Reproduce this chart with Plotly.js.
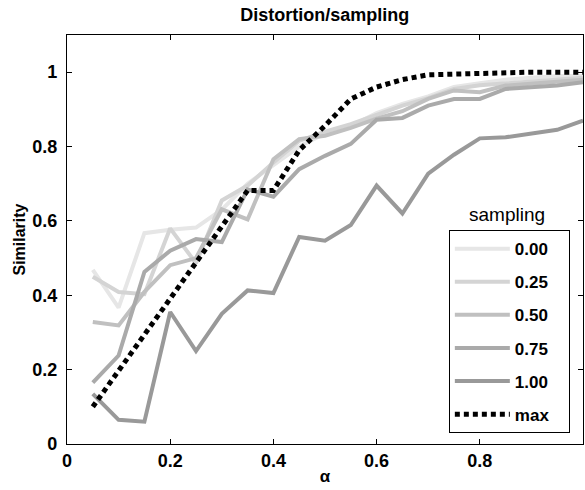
<!DOCTYPE html>
<html>
<head>
<meta charset="utf-8">
<script src="https://cdn.plot.ly/plotly-3.0.1.min.js"></script>
<style>html,body{margin:0;padding:0;background:#fff;}#chart{width:585px;height:490px;}</style>
</head>
<body>
<div id="chart"></div>
<script>
var alpha = [0.05,0.10,0.15,0.20,0.25,0.30,0.35,0.40,0.45,0.50,0.55,0.60,0.65,0.70,0.75,0.80,0.85,0.90,0.95,1.00];
var s000 = [0.468,0.367,0.567,0.576,0.582,0.630,0.700,0.750,0.800,0.835,0.855,0.890,0.915,0.935,0.960,0.970,0.980,0.985,0.990,0.990];
var s025 = [0.450,0.409,0.403,0.580,0.486,0.655,0.695,0.757,0.815,0.840,0.860,0.885,0.910,0.930,0.955,0.965,0.970,0.975,0.980,0.985];
var s050 = [0.328,0.319,0.409,0.481,0.500,0.631,0.604,0.766,0.820,0.829,0.850,0.875,0.895,0.928,0.951,0.946,0.964,0.970,0.975,0.980];
var s075 = [0.165,0.238,0.463,0.520,0.551,0.543,0.685,0.665,0.739,0.775,0.807,0.872,0.877,0.910,0.928,0.928,0.955,0.960,0.964,0.973];
var s100 = [0.135,0.065,0.060,0.355,0.250,0.350,0.413,0.406,0.557,0.547,0.589,0.695,0.620,0.727,0.778,0.822,0.825,0.835,0.845,0.870];
var smax = [0.100,0.197,0.295,0.390,0.486,0.584,0.682,0.682,0.790,0.856,0.928,0.960,0.980,0.993,0.995,0.998,1.000,1.000,1.000,1.000];
var seriesNames = ['0.00','0.25','0.50','0.75','1.00','max'];
var seriesData = [s000,s025,s050,s075,s100,smax];
var colors = ['#e6e6e6','#d4d4d4','#c0c0c0','#aaaaaa','#999999','#000000'];
var pad = '\u00a0\u00a0\u00a0';

var traces = seriesData.map(function(d,i){
  var isMax = seriesNames[i]==='max';
  return {
    x: alpha, y: d, type:'scatter', mode:'lines', name: seriesNames[i] + pad,
    legendgroup: 'g'+i,
    line: {color: colors[i], width: isMax?5:4, dash: isMax?'5px,4px':'solid'}
  };
});

var fontFam = 'Liberation Sans, Arial, Helvetica, sans-serif';
var bold18 = {family:fontFam,size:18,color:'#000',weight:'bold'};
var layout = {
  width:585, height:490,
  margin:{l:67,r:2,t:35,b:46},
  paper_bgcolor:'#fff', plot_bgcolor:'#fff',
  showlegend:true,
  title:{text:'Distortion/sampling', font:{family:fontFam,size:18,color:'#000',weight:'bold'}, x:0.555, xanchor:'center', y:0.969, yanchor:'middle'},
  xaxis:{range:[0,1], tickvals:[0,0.2,0.4,0.6,0.8,1], ticktext:['0','0.2','0.4','0.6','0.8','1'],
    showline:true, linecolor:'#000', linewidth:1.2, mirror:'ticks', ticks:'inside', ticklen:5, tickcolor:'#000',
    showgrid:false, zeroline:false,
    tickfont:bold18,
    title:{text:'α', font:{family:fontFam,size:17,color:'#000',weight:'bold'}, standoff:0}},
  yaxis:{range:[0,1.1], tickvals:[0,0.2,0.4,0.6,0.8,1], ticktext:['0','0.2','0.4','0.6','0.8','1'],
    showline:true, linecolor:'#000', linewidth:1.2, mirror:'ticks', ticks:'inside', ticklen:5, tickcolor:'#000',
    showgrid:false, zeroline:false, ticklabelstandoff:5,
    tickfont:bold18,
    title:{text:'Similarity', font:{family:fontFam,size:16,color:'#000',weight:'bold'}, standoff:2}},
  legend:{x:0.74, y:0.523, xanchor:'left', yanchor:'top', bgcolor:'#fff', bordercolor:'#000', borderwidth:1,
    font:{family:fontFam,size:17,color:'#000',weight:'bold'}, traceorder:'grouped', tracegroupgap:8, itemwidth:55},
  annotations:[{text:'sampling', xref:'paper', yref:'paper', x:0.853, y:0.562, xanchor:'center', yanchor:'middle', showarrow:false,
    font:{family:fontFam,size:19,color:'#000'}}]
};
Plotly.newPlot('chart', traces, layout, {displayModeBar:false, staticPlot:true});
</script>
</body>
</html>
